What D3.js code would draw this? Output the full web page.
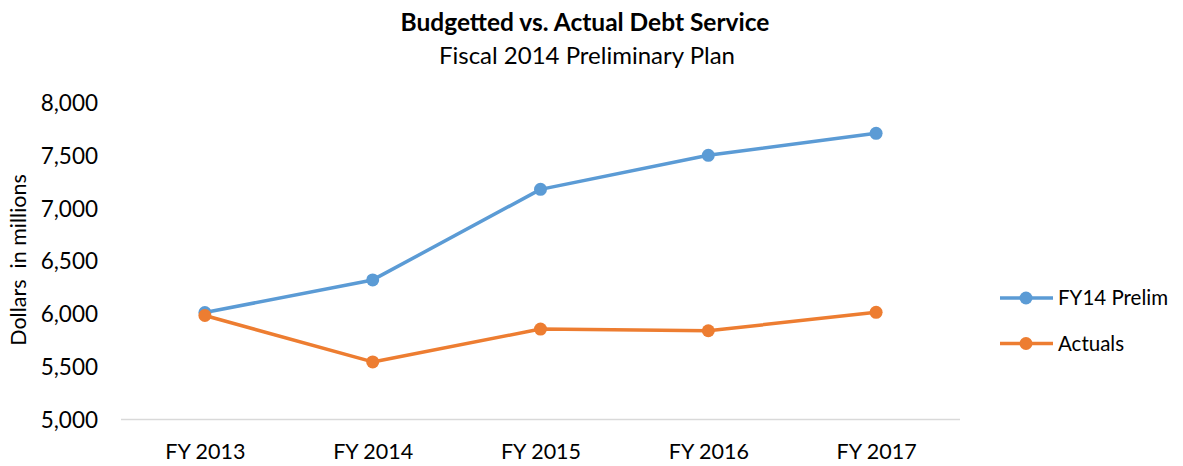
<!DOCTYPE html>
<html lang="en">
<head>
    <meta charset="UTF-8">
    <title>Budgetted vs. Actual Debt Service</title>
    <style>
      body {
          margin: 0;
          padding: 0;
          background-color: #fff;
          font-family: 'Lato', 'Open Sans', sans-serif;
      }
      svg text {
          fill: #000;
      }
    </style>
</head>
<body>
    <div id="chart"></div>
    <script src="https://d3js.org/d3.v7.min.js"></script>
    <script>
        // data
        const years = ["FY 2013", "FY 2014", "FY 2015", "FY 2016", "FY 2017"];
        const prelimValues = [6012, 6321, 7178, 7500, 7708];
        const actualValues = [5984, 5545, 5856, 5840, 6014];
        const yTicks = [5000, 5500, 6000, 6500, 7000, 7500, 8000];
        const seriesNames = ["FY14 Prelim", "Actuals"];
        const seriesColors = ["#5B9BD5", "#ED7D31"];

        const width = 1183;
        const height = 466;

        const svg = d3.select("#chart").append("svg")
            .attr("width", width)
            .attr("height", height);

        const x = d3.scalePoint()
            .domain(years)
            .range([121, 960])
            .padding(0.5);

        const y = d3.scaleLinear()
            .domain([5000, 8000])
            .range([419.5, 102.5]);

        // titles
        svg.append("text")
            .attr("x", 585)
            .attr("y", 31)
            .attr("text-anchor", "middle")
            .style("font-size", "24.5px")
            .style("font-weight", "bold")
            .text("Budgetted vs. Actual Debt Service");

        svg.append("text")
            .attr("x", 587)
            .attr("y", 64)
            .attr("text-anchor", "middle")
            .style("font-size", "24px")
            .text("Fiscal 2014 Preliminary Plan");

        // y axis (labels only)
        const yAxis = svg.append("g")
            .attr("transform", "translate(98,0)")
            .call(d3.axisLeft(y).tickValues(yTicks).tickSize(0).tickPadding(0).tickFormat(d3.format(",")));
        yAxis.select(".domain").remove();
        yAxis.selectAll("text")
            .style("font-family", "Lato, 'Open Sans', sans-serif")
            .style("font-size", "22.5px")
            .attr("dy", "0.35em");

        svg.append("text")
            .attr("transform", "translate(26,260) rotate(-90)")
            .attr("text-anchor", "middle")
            .style("font-size", "21.5px")
            .style("white-space", "pre")
            .text("Dollars  in millions");

        // x axis
        svg.append("line")
            .attr("x1", 121)
            .attr("x2", 960)
            .attr("y1", y(5000))
            .attr("y2", y(5000))
            .attr("stroke", "#d9d9d9")
            .attr("stroke-width", 1.5);

        const xAxis = svg.append("g")
            .attr("transform", `translate(0,${y(5000)})`)
            .call(d3.axisBottom(x).tickSize(0).tickPadding(24));
        xAxis.select(".domain").remove();
        xAxis.selectAll("text")
            .style("font-family", "Lato, 'Open Sans', sans-serif")
            .style("font-size", "21.5px");

        // series
        const series = [prelimValues, actualValues];
        const line = d3.line()
            .x((d, i) => x(years[i]))
            .y(d => y(d));

        series.forEach((values, s) => {
            svg.append("path")
                .datum(values)
                .attr("fill", "none")
                .attr("stroke", seriesColors[s])
                .attr("stroke-width", 3.5)
                .attr("stroke-linejoin", "round")
                .attr("d", line);

            svg.append("g")
                .selectAll("circle")
                .data(values)
                .enter().append("circle")
                .attr("cx", (d, i) => x(years[i]))
                .attr("cy", d => y(d))
                .attr("r", 6.5)
                .attr("fill", seriesColors[s]);
        });

        // legend
        const legend = svg.append("g");
        seriesNames.forEach((name, i) => {
            const ly = 298 + i * 45.5;
            legend.append("line")
                .attr("x1", 1000)
                .attr("x2", 1053)
                .attr("y1", ly)
                .attr("y2", ly)
                .attr("stroke", seriesColors[i])
                .attr("stroke-width", 3.5);
            legend.append("circle")
                .attr("cx", 1026)
                .attr("cy", ly)
                .attr("r", 6.5)
                .attr("fill", seriesColors[i]);
            legend.append("text")
                .attr("x", 1058)
                .attr("y", ly)
                .attr("dy", "0.35em")
                .style("font-size", "20.5px")
                .text(name);
        });
    </script>
</body>
</html>
